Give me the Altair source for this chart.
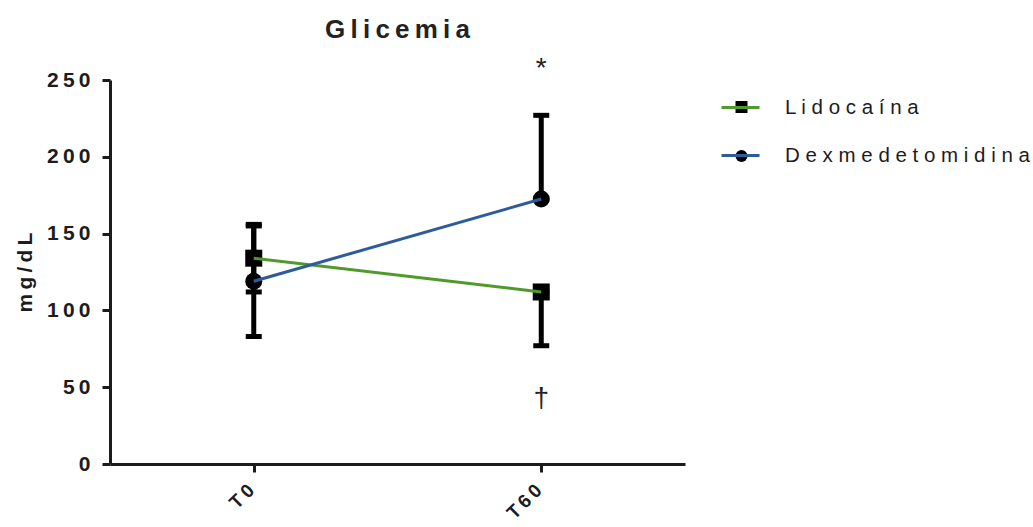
import altair as alt
import pandas as pd

times = ["T0", "T60"]
series = ["Lidocaína", "Dexmedetomidina"]
lido_mean = [134, 112]
dex_mean = [119, 172.5]
lido_lo = [112, 77]
lido_hi = [156, 112]
dex_lo = [83, 172.5]
dex_hi = [155, 227]
colors = ["#4f9a2b", "#2e5b9e"]
shapes = ["square", "circle"]
annot_text = ["*", "†"]
annot_time = ["T60", "T60"]
annot_y = [257, 42]

rows = []
for i, t in enumerate(times):
    rows.append(dict(time=t, series=series[0], mean=lido_mean[i], lo=lido_lo[i], hi=lido_hi[i]))
    rows.append(dict(time=t, series=series[1], mean=dex_mean[i], lo=dex_lo[i], hi=dex_hi[i]))
df = pd.DataFrame(rows)
ann = pd.DataFrame(dict(time=annot_time, y=annot_y, text=annot_text))

SP = "replace(datum.label, regexp('(.)(?=.)', 'g'), '$1\u2009')"
SP2 = "replace(datum.label, regexp('(.)(?=.)', 'g'), '$1 ')"

xenc = alt.X("time:N", scale=alt.Scale(type="point", domain=times, padding=0.5),
             axis=alt.Axis(title=None, labelAngle=-45, labelAlign="right", labelBaseline="middle",
                           labelFontSize=19, labelFontWeight="bold", labelPadding=15, labelOffset=-3,
                           labelExpr=SP))
yscale = alt.Scale(domain=[0, 250], nice=False)
yaxis = alt.Axis(title="m\u2009g\u2009/\u2009d\u2009L", values=[0, 50, 100, 150, 200, 250],
                 labelFontSize=21, labelFontWeight="bold", labelPadding=12, labelExpr=SP,
                 titleFontSize=21, titleFontWeight="bold", titlePadding=11)

base = alt.Chart(df)

bars = base.mark_rule(strokeWidth=5, color="black").encode(
    x=xenc, y=alt.Y("lo:Q", scale=yscale, axis=yaxis), y2="hi:Q")
cap_lo = base.mark_tick(thickness=5, size=16, color="black", opacity=1).encode(x=xenc, y=alt.Y("lo:Q", scale=yscale))
cap_hi = base.mark_tick(thickness=5, size=16, color="black", opacity=1).encode(x=xenc, y=alt.Y("hi:Q", scale=yscale))

points = base.mark_point(filled=True, size=289, color="black", opacity=1).encode(
    x=xenc, y=alt.Y("mean:Q", scale=yscale),
    shape=alt.Shape("series:N", scale=alt.Scale(domain=series, range=shapes),
                    legend=alt.Legend(orient="none", legendX=621.5, legendY=17, title=None,
                                      symbolSize=144, symbolFillColor="black", symbolStrokeColor="black",
                                      symbolStrokeWidth=0, labelFontSize=20, labelExpr="''",
                                      labelLimit=400, rowPadding=29, padding=0)))

lines = base.mark_line(strokeWidth=3).encode(
    x=xenc, y=alt.Y("mean:Q", scale=yscale),
    color=alt.Color("series:N", scale=alt.Scale(domain=series, range=colors),
                    legend=alt.Legend(orient="none", legendX=610, legendY=7, title=None,
                                      symbolType="stroke", symbolSize=1444, symbolStrokeWidth=3,
                                      labelFontSize=20.5, labelOffset=24, labelExpr=SP2,
                                      labelLimit=400, rowPadding=17, padding=0)))

annots = alt.Chart(ann).mark_text(fontSize=28, color="#222", clip=False).encode(
    x=alt.X("time:N", scale=alt.Scale(type="point", domain=times, padding=0.5)),
    y=alt.Y("y:Q", scale=yscale), text="text:N")

chart = alt.layer(bars, cap_lo, cap_hi, points, lines, annots).resolve_legend(
    color="independent", shape="independent"
).properties(
    width=575, height=384,
    title=alt.Title("G\u2009l\u2009i\u2009c\u2009e\u2009m\u2009i\u2009a", fontSize=26, fontWeight="bold",
                    anchor="middle", offset=12, color="#222"),
    autosize=alt.AutoSizeParams(type="none"),
    padding={"left": 110, "top": 80, "right": 348, "bottom": 63},
).configure(font="Liberation Sans").configure_axis(
    domainWidth=3, domainColor="#1c1c1c", tickWidth=3, tickColor="#1c1c1c", tickSize=8,
    labelColor="#1c1c1c", titleColor="#1c1c1c", grid=False
).configure_legend(labelColor="#1c1c1c").configure_view(stroke=None)

chart.save("out.html", embed_options={"renderer": "svg", "actions": False})
